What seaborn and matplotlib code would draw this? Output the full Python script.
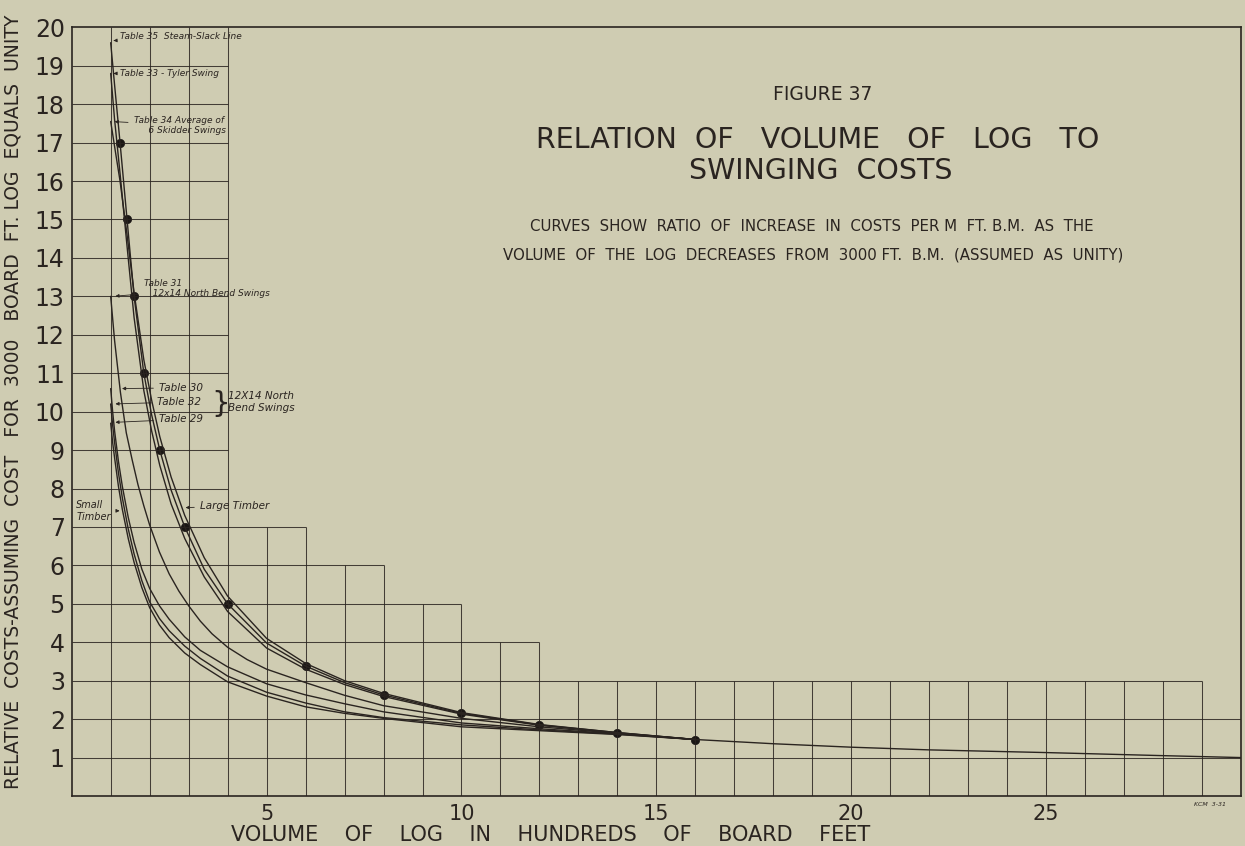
import matplotlib

matplotlib.use("Agg")
import matplotlib.pyplot as plt
import seaborn as sns

# Volume of log (hundreds of board feet) / relative cost
top_x = [1.0, 1.1, 1.24, 1.42, 1.6, 1.85, 2.05, 2.26, 2.55, 2.9, 3.4, 4, 5, 6, 7, 8, 10, 12, 14, 16]
t35_y = [19.6, 18.5, 17, 15, 13, 11, 9.92, 9, 7.96, 7, 5.9, 5, 3.98, 3.38, 2.95, 2.63, 2.15, 1.85, 1.65, 1.47]
t33_y = [18.8, 17.6, 16.2, 14.3, 12.45, 10.55, 9.5, 8.6, 7.6, 6.7, 5.7, 4.8, 3.85, 3.3, 2.9, 2.59, 2.13, 1.84, 1.64, 1.47]
t34_y = [17.55, 16.9, 16.0, 14.6, 13.1, 11.35, 10.3, 9.35, 8.3, 7.3, 6.2, 5.2, 4.1, 3.45, 3.0, 2.67, 2.17, 1.86, 1.65, 1.47]

# common tail of all curves towards 3000 ft. b.m.
tail_x = [18, 20, 22, 25, 28, 30]
tail_y = [1.36, 1.27, 1.2, 1.13, 1.05, 1.0]

t31_x = [1.0, 1.1, 1.25, 1.4, 1.55, 1.7, 1.85, 2.0, 2.25, 2.5, 2.75, 3.0, 3.3, 3.6, 4, 4.5, 5, 6, 7, 8, 10, 12, 14, 16]
t31_y = [13.0, 11.85, 10.5, 9.45, 8.75, 8.1, 7.55, 7.05, 6.35, 5.78, 5.33, 4.95, 4.55, 4.22, 3.87, 3.55, 3.3, 2.95, 2.62, 2.35, 2.02, 1.8, 1.63, 1.47]

low_x = [1.0, 1.05, 1.1, 1.2, 1.3, 1.45, 1.6, 1.8, 2.0, 2.25, 2.5, 2.9, 3.3, 4, 5, 6, 7, 8, 10, 12, 14, 16]
t30_y = [10.6, 10.0, 9.5, 8.7, 8.05, 7.25, 6.6, 5.9, 5.4, 4.95, 4.6, 4.14, 3.79, 3.36, 2.92, 2.63, 2.4, 2.19, 1.9, 1.75, 1.62, 1.47]
t32_y = [10.2, 9.65, 9.2, 8.4, 7.75, 6.95, 6.3, 5.6, 5.05, 4.62, 4.3, 3.9, 3.58, 3.12, 2.7, 2.42, 2.19, 2.04, 1.85, 1.72, 1.61, 1.47]
t29_y = [9.7, 9.2, 8.8, 8.05, 7.45, 6.7, 6.08, 5.42, 4.9, 4.45, 4.12, 3.72, 3.42, 2.97, 2.6, 2.32, 2.15, 2.02, 1.8, 1.7, 1.6, 1.47]

# plotted observations (dots)
dots_x = [1.24, 1.42, 1.6, 1.85, 2.26, 2.9, 4, 6, 8, 10, 12, 14, 16]
dots_y = [17, 15, 13, 11, 9, 7, 5, 3.38, 2.63, 2.15, 1.85, 1.65, 1.47]

# stepped ruling of the drawing sheet
vert_x = list(range(1, 30))
vert_top = [20] * 4 + [7] * 2 + [6] * 2 + [5] * 2 + [4] * 2 + [3] * 17
horiz_y = list(range(1, 20))
horiz_end = [30, 30, 29, 12, 10, 8, 6] + [4] * 12

y_ticks = list(range(1, 21))
x_ticks = [5, 10, 15, 20, 25]

paper = "#cfccb2"
ink = "#2a2420"

sns.set_theme(style="white")
plt.rcParams["font.family"] = ["DejaVu Sans"]

fig = plt.figure(figsize=(12.45, 8.46), dpi=100, facecolor=paper)
ax = fig.add_axes([0.0576, 0.0591, 0.9392, 0.9086])
ax.set_facecolor(paper)

# ruling
ax.vlines(vert_x, 0, vert_top, color=ink, lw=0.75, alpha=0.85)
ax.hlines(horiz_y, 0, horiz_end, color=ink, lw=0.75, alpha=0.85)

curves = [
    (top_x + tail_x, t35_y + tail_y),
    (top_x, t33_y),
    (top_x, t34_y),
    (t31_x, t31_y),
    (low_x, t30_y),
    (low_x, t32_y),
    (low_x, t29_y),
]
for cx, cy in curves:
    sns.lineplot(x=cx, y=cy, ax=ax, color=ink, lw=1.0, legend=False)

sns.scatterplot(x=dots_x, y=dots_y, ax=ax, color="#1a1614", s=36, edgecolor=None, legend=False)

ax.set_xlim(0, 30)
ax.set_ylim(0, 20)
ax.set_xticks(x_ticks)
ax.set_yticks(y_ticks)
ax.tick_params(length=0)
ax.tick_params(axis="y", labelsize=17, pad=5, labelcolor=ink)
ax.tick_params(axis="x", labelsize=15, pad=6, labelcolor=ink)
ax.set_xlabel("")
ax.set_ylabel("")
for s in ax.spines.values():
    s.set_visible(True)
    s.set_color(ink)
    s.set_linewidth(1.2)

# handwritten notes
note = dict(fontsize=6.5, style="italic", color=ink)
note2 = dict(fontsize=7.5, style="italic", color=ink)
arrow = dict(arrowstyle="-|>", color=ink, lw=0.6, mutation_scale=5)
ax.annotate("Table 35  Steam-Slack Line", xy=(1.0, 19.65), xytext=(1.25, 19.75),
            va="center", arrowprops=arrow, **note)
ax.annotate("Table 33 - Tyler Swing", xy=(1.0, 18.8), xytext=(1.25, 18.8),
            va="center", arrowprops=arrow, **note)
ax.annotate("Table 34 Average of\n     6 Skidder Swings", xy=(1.03, 17.55), xytext=(1.6, 17.45),
            va="center", arrowprops=arrow, **note)
ax.annotate("Table 31\n   12x14 North Bend Swings", xy=(1.05, 13.0), xytext=(1.85, 13.2),
            va="center", arrowprops=arrow, **note)
ax.annotate("Table 30", xy=(1.22, 10.6), xytext=(2.25, 10.62),
            va="center", arrowprops=arrow, **note2)
ax.annotate("Table 32", xy=(1.05, 10.2), xytext=(2.2, 10.25),
            va="center", arrowprops=arrow, **note2)
ax.annotate("Table 29", xy=(1.05, 9.72), xytext=(2.25, 9.8),
            va="center", arrowprops=arrow, **note2)
ax.text(3.58, 10.2, "}", fontsize=21, color=ink, va="center", ha="left")
ax.text(4.02, 10.25, "12X14 North\nBend Swings", va="center", **note2)
ax.annotate("Large Timber", xy=(2.85, 7.5), xytext=(3.3, 7.55),
            va="center", arrowprops=arrow, **note2)
ax.annotate("Small\nTimber", xy=(1.3, 7.42), xytext=(0.12, 7.42),
            va="center", arrowprops=arrow, fontsize=7, style="italic", color=ink)
ax.text(29.2, -0.25, "KCM  3-31", fontsize=4.5, style="italic", color=ink, ha="center")

# titles
fig.text(0.661, 0.888, "FIGURE 37", ha="center", va="center", fontsize=13.5, color=ink)
fig.text(0.657, 0.835, "RELATION  OF   VOLUME   OF   LOG   TO", ha="center", va="center",
         fontsize=20.5, color=ink)
fig.text(0.659, 0.798, "SWINGING  COSTS", ha="center", va="center", fontsize=20.5, color=ink)
fig.text(0.652, 0.732, "CURVES  SHOW  RATIO  OF  INCREASE  IN  COSTS  PER M  FT. B.M.  AS  THE",
         ha="center", va="center", fontsize=10.8, color=ink)
fig.text(0.653, 0.698, "VOLUME  OF  THE  LOG  DECREASES  FROM  3000 FT.  B.M.  (ASSUMED  AS  UNITY)",
         ha="center", va="center", fontsize=10.8, color=ink)

fig.text(0.4426, 0.013, "VOLUME    OF    LOG    IN    HUNDREDS    OF    BOARD    FEET", ha="center",
         va="center", fontsize=15, color=ink)
fig.text(0.0105, 0.525, "RELATIVE  COSTS-ASSUMING  COST   FOR  3000   BOARD  FT. LOG  EQUALS  UNITY",
         ha="center", va="center", rotation=90, fontsize=13.5, color=ink)

fig.savefig("out.png", dpi=100, facecolor=paper)
